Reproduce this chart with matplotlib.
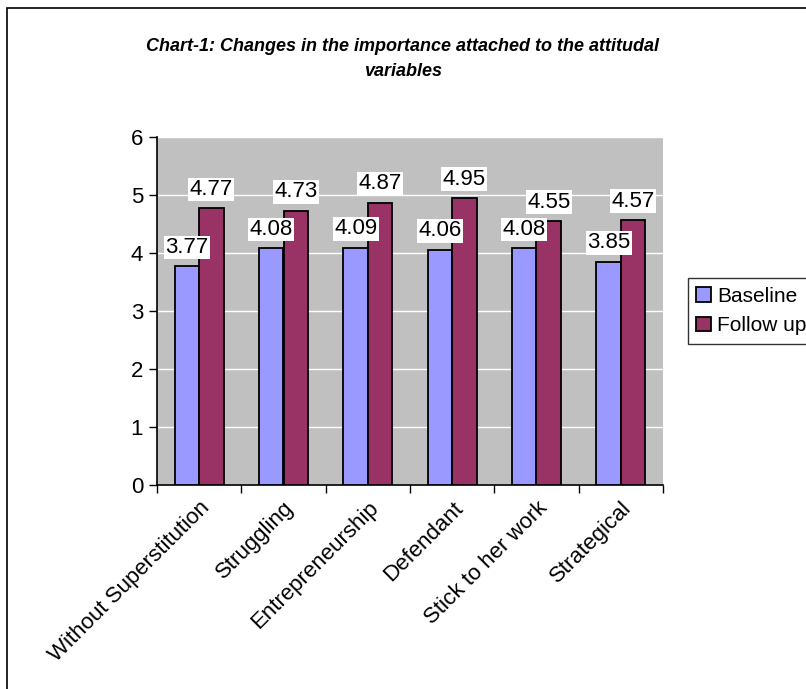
import matplotlib
matplotlib.use("Agg")
import matplotlib.pyplot as plt
from matplotlib.patches import Rectangle
import numpy as np

plt.rcParams['font.family'] = ['Liberation Sans', 'DejaVu Sans']

categories = ["Without Superstitution", "Struggling", "Entrepreneurship",
              "Defendant", "Stick to her work", "Strategical"]
baseline = [3.77, 4.08, 4.09, 4.06, 4.08, 3.85]
follow_up = [4.77, 4.73, 4.87, 4.95, 4.55, 4.57]
series_names = ["Baseline", "Follow up"]
yticks = [0, 1, 2, 3, 4, 5, 6]
title = "Chart-1: Changes in the importance attached to the attitudal\nvariables"

W, H = 806, 689
fig = plt.figure(figsize=(W / 100, H / 100), dpi=100)

# outer chart border (cropped at right and bottom)
fig.patches.append(Rectangle((7 / W, -0.1), 1.2, 1 - 8 / H + 0.1,
                             transform=fig.transFigure, fill=False,
                             edgecolor='black', linewidth=1.2))

ax = fig.add_axes([157 / W, 1 - 485 / H, (663 - 157) / W, (485 - 137) / H])
ax.set_facecolor('#C0C0C0')

x = np.arange(len(categories))
bw = 0.29
b1 = ax.bar(x - bw / 2, baseline, bw, color='#9999FF', edgecolor='black',
            linewidth=1.3, label=series_names[0], zorder=3)
b2 = ax.bar(x + bw / 2, follow_up, bw, color='#993366', edgecolor='black',
            linewidth=1.3, label=series_names[1], zorder=3)

for bars, vals in ((b1, baseline), (b2, follow_up)):
    for rect, v in zip(bars, vals):
        ax.annotate(f"{v:.2f}", (rect.get_x() + rect.get_width() / 2, v),
                    xytext=(0, 6), textcoords='offset points',
                    ha='center', va='bottom', fontsize=16, zorder=5,
                    bbox=dict(boxstyle='square,pad=0.06', fc='white', ec='none'))

ax.set_ylim(0, 6)
ax.set_xlim(-0.5, len(categories) - 0.5)
ax.set_yticks(yticks)
ax.set_yticklabels([str(t) for t in yticks], fontsize=16)
ax.yaxis.grid(True, color='white', linewidth=1.0, zorder=0)
ax.set_axisbelow(True)

ax.set_xticks(np.arange(len(categories) + 1) - 0.5, minor=False)
ax.set_xticklabels([])
ax.set_xticks(x, minor=True)
ax.set_xticklabels(categories, minor=True, rotation=45, ha='right',
                   va='top', rotation_mode='anchor', fontsize=16)
ax.tick_params(axis='x', which='minor', length=0, pad=9)
ax.tick_params(axis='x', which='major', length=6, width=1, direction='out')
ax.tick_params(axis='y', length=6, width=1, direction='out', pad=4)

for s in ('top', 'right'):
    ax.spines[s].set_visible(False)
for s in ('left', 'bottom'):
    ax.spines[s].set_color('black')
    ax.spines[s].set_linewidth(1.2)

leg = fig.legend(handles=[b1, b2], labels=series_names,
                 loc='center left', bbox_to_anchor=(688 / W, 1 - 311 / H),
                 fontsize=15, frameon=True, fancybox=False, edgecolor='black',
                 handlelength=0.7, handleheight=0.7, handletextpad=0.3,
                 borderpad=0.4, labelspacing=0.5, borderaxespad=0)
leg.get_frame().set_linewidth(1.0)

fig.text(0.5, 1 - 38 / H, title, ha='center', va='top', fontsize=13,
         fontweight='bold', fontstyle='italic', linespacing=1.65)

fig.savefig("out.png", dpi=100)
